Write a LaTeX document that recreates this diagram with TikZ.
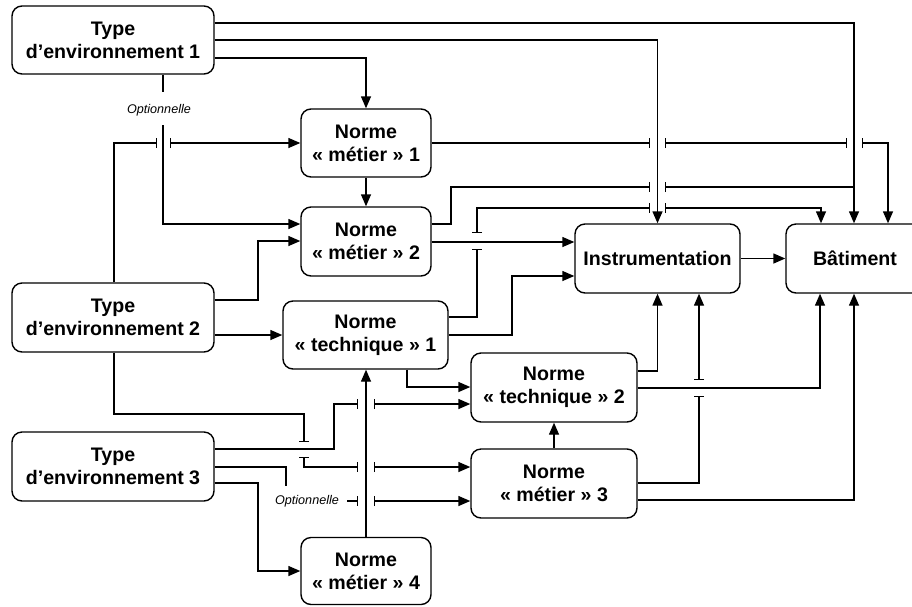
\documentclass[tikz,border=0pt]{standalone}
\usepackage{fontspec}
\setmainfont{Liberation Sans}
\usetikzlibrary{arrows.meta}
\tikzset{
  box/.style={draw, line width=1.4pt, rounded corners=10pt, inner sep=0pt, align=center,
    font=\bfseries\fontsize{19.6}{23}\selectfont},
  conn/.style={line width=1.4pt},
  arr/.style={conn, -{Triangle[length=12pt,width=10pt]}},
  tee/.style={conn, -{Bar[width=10pt]}},
  teearr/.style={conn, {Bar[width=10pt]}-{Triangle[length=12pt,width=10pt]}},
  teeline/.style={conn, {Bar[width=10pt]}-},
  teetee/.style={conn, {Bar[width=10pt]}-{Bar[width=10pt]}},
  opt/.style={font=\itshape\fontsize{12.6}{15}\selectfont, inner sep=0pt}
}
\begin{document}
\begin{tikzpicture}[x=1pt,y=-1pt]
\fill[white] (0,0) rectangle (912,606);
\useasboundingbox (0,0) rectangle (912,606);

\node[box, minimum width=202pt, minimum height=68pt] (te1) at (113,40) {Type\\d’environnement 1};
\node[box, minimum width=130pt, minimum height=68pt] (nm1) at (366,143) {Norme\\« métier » 1};
\node[box, minimum width=130pt, minimum height=69pt] (nm2) at (366,241.5) {Norme\\« métier » 2};
\node[box, minimum width=202pt, minimum height=69pt] (te2) at (113,317.5) {Type\\d’environnement 2};
\node[box, minimum width=165pt, minimum height=68pt] (nt1) at (365.5,335) {Norme\\« technique » 1};
\node[box, minimum width=165pt, minimum height=69pt] (ins) at (657.5,258.5) {Instrumentation};
\node[box, minimum width=138pt, minimum height=69pt] (bat) at (855,258.5) {Bâtiment};
\node[box, minimum width=166pt, minimum height=69pt] (nt2) at (554,387.5) {Norme\\« technique » 2};
\node[box, minimum width=166pt, minimum height=69pt] (nm3) at (554,483.5) {Norme\\« métier » 3};
\node[box, minimum width=202pt, minimum height=69pt] (te3) at (113,466.5) {Type\\d’environnement 3};
\node[box, minimum width=130pt, minimum height=67pt] (nm4) at (366,571) {Norme\\« métier » 4};

% Type d'environnement 1
\draw[arr] (te1.east |- 0,23) -| (854,0 |- bat.north);
\draw[arr] (te1.east |- 0,40) -| (ins.north);
\draw[arr] (te1.east |- 0,58) -| (nm1.north);
\node[opt] (o1) at (159,110) {Optionnelle};
\draw[conn] (163,0 |- te1.south) -- (163,92);
\draw[arr] (163,125) -- (163,224) -- (nm2.west |- 0,224);

% Type d'environnement 2
\draw[tee] (114,0 |- te2.north) -- (114,143) -- (157,143);
\draw[teearr] (170,143) -- (nm1.west);
\draw[arr] (te2.east |- 0,300) -- (258,300) -- (258,241) -- (nm2.west |- 0,241);
\draw[arr] (te2.east |- 0,335) -- (nt1.west);
\draw[tee] (114,0 |- te2.south) -- (114,414) -- (304,414) -- (304,442);
\draw[teetee] (304,457) -- (304,467) -- (358,467);
\draw[teearr] (374,467) -- (nm3.west |- 0,467);

% Norme metier 1
\draw[arr] (nm1.south) -- (nm2.north);
\draw[tee] (nm1.east) -- (650,143);
\draw[teetee] (665,143) -- (847,143);
\draw[teearr] (862,143) -- (888,143) -- (888,0 |- bat.north);

% Norme metier 2
\draw[tee] (nm2.east |- 0,224) -- (451,224) -- (451,187) -- (650,187);
\draw[teeline] (665,187) -- (854,187);
\draw[arr] (nm2.east |- 0,242) -- (ins.west |- 0,242);

% Norme technique 1
\draw[tee] (nt1.east |- 0,317) -- (477,317) -- (477,249);
\draw[teetee] (477,233) -- (477,208) -- (650,208);
\draw[teearr] (665,208) -- (821,208) -- (821,0 |- bat.north);
\draw[arr] (nt1.east |- 0,335) -- (512,335) -- (512,276) -- (ins.west |- 0,276);
\draw[arr] (407,0 |- nt1.south) -- (407,387) -- (nt2.west |- 0,387);

% Instrumentation -> Batiment
\draw[arr] (ins.east) -- (bat.west);

% Norme technique 2
\draw[arr] (nt2.east |- 0,371) -| (ins.south);
\draw[arr] (nt2.east |- 0,388) -| (820,0 |- bat.south);

% Norme metier 3
\draw[arr] (nm3.north) -- (nt2.south);
\draw[tee] (nm3.east |- 0,483) -- (699,483) -- (699,396);
\draw[teearr] (699,380) -- (699,0 |- ins.south);
\draw[arr] (nm3.east |- 0,500) -| (854,0 |- bat.south);

% Norme metier 4
\draw[arr] (nm4.north) -- (nm4.north |- nt1.south);

% Type d'environnement 3
\draw[tee] (te3.east |- 0,449) -- (334,449) -- (334,404) -- (358,404);
\draw[teearr] (374,404) -- (nt2.west |- 0,404);
\draw[conn] (te3.east |- 0,467) -- (286,467) -- (286,486);
\node[opt] (o2) at (307,501) {Optionnelle};
\draw[tee] (347,501) -- (358,501);
\draw[teearr] (374,501) -- (nm3.west |- 0,501);
\draw[arr] (te3.east |- 0,483) -- (258,483) -- (258,571) -- (nm4.west);
\end{tikzpicture}
\end{document}
